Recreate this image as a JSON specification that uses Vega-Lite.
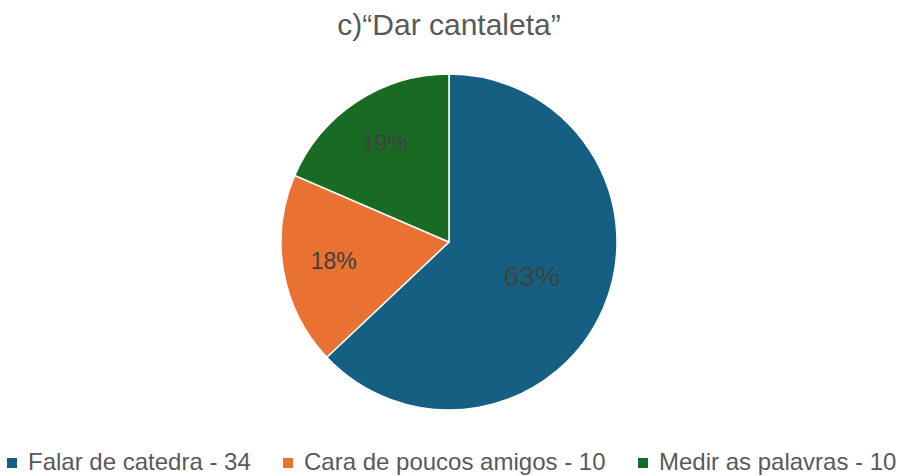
{
  "$schema": "https://vega.github.io/schema/vega-lite/v6.json",
  "width": 904,
  "height": 476,
  "autosize": {"type": "fit", "contains": "padding"},
  "padding": {"top": 11, "bottom": 1, "left": 0, "right": 6},
  "background": "white",
  "title": {
    "text": "c)“Dar cantaleta”",
    "font": "Liberation Sans",
    "fontSize": 30,
    "fontWeight": "normal",
    "color": "#595959",
    "anchor": "middle",
    "offset": 22
  },
  "data": {
    "values": [
      {"categoria": "Falar de catedra - 34", "valor": 34, "rotulo": "63%", "ordem": 1},
      {"categoria": "Cara de poucos amigos - 10", "valor": 10, "rotulo": "18%", "ordem": 2},
      {"categoria": "Medir as palavras - 10", "valor": 10, "rotulo": "19%", "ordem": 3}
    ]
  },
  "encoding": {
    "theta": {"field": "valor", "type": "quantitative", "stack": true},
    "order": {"field": "ordem", "type": "quantitative"},
    "color": {
      "field": "categoria",
      "type": "nominal",
      "scale": {
        "domain": ["Falar de catedra - 34", "Cara de poucos amigos - 10", "Medir as palavras - 10"],
        "range": ["#156082", "#E97132", "#196B24"]
      },
      "legend": {
        "title": null,
        "orient": "bottom",
        "direction": "horizontal",
        "symbolType": "square",
        "symbolSize": 100,
        "symbolStrokeWidth": 0,
        "labelFont": "Liberation Sans",
        "labelFontSize": 24,
        "labelColor": "#595959",
        "labelLimit": 400,
        "labelOffset": 4,
        "columnPadding": 25,
        "offset": 30
      }
    }
  },
  "layer": [
    {
      "mark": {"type": "arc", "outerRadius": 168, "stroke": "white", "strokeWidth": 1.5}
    },
    {
      "mark": {"type": "text", "radius": {"expr": "datum.ordem == 1 ? 90 : 117"}, "font": "Liberation Sans", "color": "#404040"},
      "encoding": {
        "text": {"field": "rotulo"},
        "color": {"value": "#404040"},
        "size": {"condition": {"test": "datum.valor > 20", "value": 28}, "value": 23}
      }
    }
  ],
  "config": {"view": {"stroke": null}}
}
